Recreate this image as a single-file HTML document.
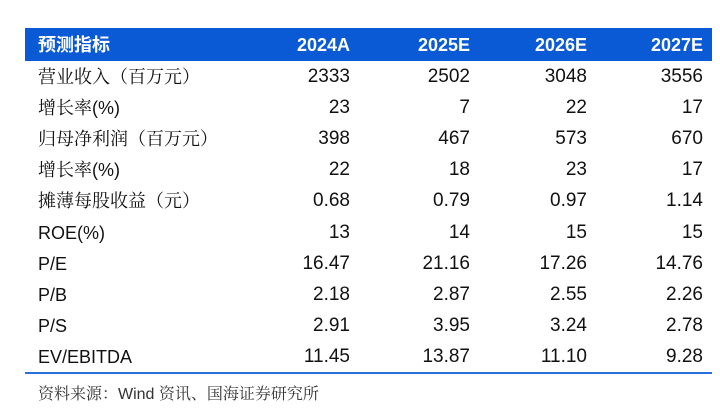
<!DOCTYPE html>
<html><head><meta charset="utf-8"><style>
body{margin:0;width:720px;height:420px;background:#fff;overflow:hidden;font-family:"Liberation Sans","Noto Serif CJK SC",serif;}
.hdr{position:absolute;left:25px;top:28px;width:687px;height:33px;background:#0a5ad6;}
.c{position:absolute;white-space:nowrap;font-size:19px;color:#111;line-height:20px;}
.lab{font-size:18px;}
.h{color:#fff;font-weight:bold;font-size:18px;font-family:"Liberation Sans","Noto Sans CJK SC",sans-serif;}
.line{position:absolute;left:25px;top:372px;width:687px;height:2px;background:#2b6fdc;}
.foot{position:absolute;left:38px;top:381px;font-size:16px;color:#333;}
</style></head><body>
<div class="hdr"></div>
<div id="t"></div>
<div class="line"></div>
<div class="foot">资料来源：Wind 资讯、国海证券研究所</div>
<script>
const headers=["预测指标","2024A","2025E","2026E","2027E"];
const labels=["营业收入（百万元）","增长率(%)","归母净利润（百万元）","增长率(%)","摊薄每股收益（元）","ROE(%)","P/E","P/B","P/S","EV/EBITDA"];
const v2024=["2333","23","398","22","0.68","13","16.47","2.18","2.91","11.45"];
const v2025=["2502","7","467","18","0.79","14","21.16","2.87","3.95","13.87"];
const v2026=["3048","22","573","23","0.97","15","17.26","2.55","3.24","11.10"];
const v2027=["3556","17","670","17","1.14","15","14.76","2.26","2.78","9.28"];
const cols=[v2024,v2025,v2026,v2027];
const rights=[350,470,587,703];
const t=document.getElementById('t');
function add(txt,x,y,right,cls,name){
 const d=document.createElement('div');d.className='c '+cls;d.textContent=txt;
 d.style.top=(y-10)+'px';
 if(right){d.style.right=(720-x)+'px';}else{d.style.left=x+'px';}
 
 
 t.appendChild(d);
}
add(headers[0],38,45,false,'h','header-label');
for(let j=0;j<4;j++)add(headers[j+1],rights[j],45,true,'h','header-'+headers[j+1]);
for(let i=0;i<labels.length;i++){
 const y=76.6+i*31.2;
 add(labels[i],38,y,false,'lab','row-label');
 for(let j=0;j<4;j++)add(cols[j][i],rights[j],y,true,'','cell-value');
}
</script>
</body></html>
